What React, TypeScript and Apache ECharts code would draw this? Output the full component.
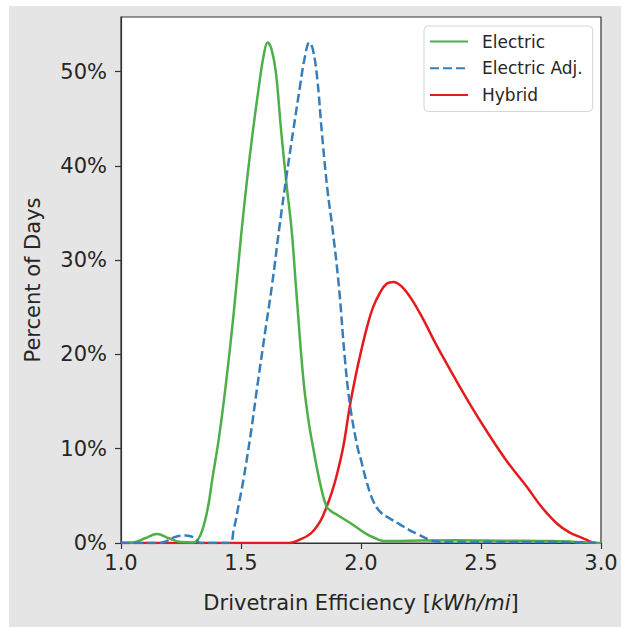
import React, { useEffect, useRef } from "react";
import * as echarts from "echarts";

// ---- Data (x = drivetrain efficiency kWh/mi, y = percent of days) ----
const electricX = [1.0, 1.05, 1.1, 1.15, 1.2, 1.25, 1.3, 1.33, 1.36, 1.38, 1.41, 1.44, 1.47, 1.5, 1.525, 1.55, 1.575, 1.595, 1.611, 1.627, 1.645, 1.667, 1.69, 1.711, 1.729, 1.76, 1.78, 1.8, 1.83, 1.857, 1.88, 1.9, 1.95, 1.98, 2.02, 2.06, 2.1, 2.2, 2.4, 2.6, 2.8, 2.95, 3.0];
const electricY = [0, 0.05, 0.5, 0.95, 0.5, 0.1, 0.05, 0.8, 3.5, 6.7, 11.5, 17.5, 24.5, 32.5, 38.5, 43.8, 48.5, 51.8, 53.1, 52.4, 50.0, 43.8, 38.0, 33.2, 27.2, 17.3, 13.2, 10.2, 6.3, 3.85, 3.3, 3.0, 2.2, 1.7, 1.0, 0.5, 0.2, 0.25, 0.3, 0.25, 0.2, 0.05, 0];

const adjX = [1.0, 1.15, 1.18, 1.22, 1.27, 1.31, 1.33, 1.45, 1.47, 1.49, 1.51, 1.54, 1.57, 1.6, 1.63, 1.66, 1.69, 1.718, 1.745, 1.765, 1.785, 1.8, 1.818, 1.836, 1.86, 1.882, 1.908, 1.933, 1.955, 1.985, 2.0, 2.02, 2.05, 2.08, 2.12, 2.16, 2.2, 2.24, 2.28, 2.32, 2.5, 2.8, 3.0];
const adjY = [0, 0, 0.1, 0.6, 0.8, 0.5, 0, 0, 1.5, 4.0, 6.7, 11.5, 17.0, 22.3, 27.5, 33.5, 39.0, 43.8, 48.3, 51.4, 53.1, 52.3, 49.2, 43.8, 37.5, 33.2, 27.2, 19.5, 14.5, 10.2, 8.8, 6.8, 4.5, 3.3, 2.6, 2.0, 1.4, 0.9, 0.4, 0.15, 0.1, 0.1, 0];

const hybridX = [1.0, 1.7, 1.74, 1.79, 1.83, 1.857, 1.88, 1.9, 1.926, 1.954, 1.98, 2.0, 2.025, 2.05, 2.08, 2.107, 2.135, 2.17, 2.21, 2.26, 2.31, 2.371, 2.45, 2.538, 2.61, 2.69, 2.75, 2.815, 2.87, 2.926, 2.95, 2.97];
const hybridY = [0, 0, 0.3, 1.0, 2.3, 3.85, 5.5, 7.3, 10.2, 14.6, 18.0, 20.3, 22.9, 25.0, 26.6, 27.5, 27.7, 27.2, 25.9, 23.7, 21.2, 18.4, 14.9, 11.3, 8.6, 6.0, 3.9, 2.1, 1.1, 0.5, 0.2, 0];

const seriesNames = ["Electric", "Electric Adj.", "Hybrid"];
const xTickValues = [1.0, 1.5, 2.0, 2.5, 3.0];
const yTickValues = [0, 10, 20, 30, 40, 50];

const zip = (xs: number[], ys: number[]) => xs.map((x, i) => [x, ys[i]]);

const FONT = "DejaVu Sans";

export default function App() {
  const ref = useRef<HTMLDivElement>(null);

  useEffect(() => {
    if (!ref.current) return;
    const chart = echarts.init(ref.current, undefined, { renderer: "svg" });
    const lineBase = {
      type: "line" as const,
      symbol: "none",
      smooth: 0.4,
    };
    chart.setOption({
      animation: false,
      backgroundColor: "transparent",
      textStyle: { fontFamily: FONT },
      grid: {
        left: 112,
        right: 20,
        top: 11,
        bottom: 84,
        show: true,
        backgroundColor: "#ffffff",
        borderColor: "#333333",
        borderWidth: 1.2,
      },
      legend: {
        orient: "vertical",
        left: 415,
        top: 20,
        data: seriesNames,
        itemWidth: 38,
        itemHeight: 14,
        itemGap: 9.7,
        padding: [7, 10, 8, 5],
        backgroundColor: "rgba(255,255,255,0.85)",
        borderColor: "#d4d4d4",
        borderWidth: 1,
        borderRadius: 4,
        itemStyle: { opacity: 0 },
        textStyle: {
          fontFamily: FONT,
          fontSize: 17,
          color: "#262626",
          padding: [0, 0, 0, 9],
        },
      },
      xAxis: {
        type: "value",
        min: 1,
        max: 3,
        interval: 0.5,
        name: "Drivetrain Efficiency [{i|kWh/mi}]",
        nameLocation: "middle",
        nameGap: 49,
        nameTextStyle: {
          fontFamily: FONT,
          fontSize: 21,
          color: "#262626",
          rich: {
            i: { fontFamily: FONT, fontSize: 21, fontStyle: "italic", color: "#262626" },
          },
        },
        axisLine: { show: true, lineStyle: { color: "#333333", width: 1.2 } },
        axisTick: { show: true, length: 6, lineStyle: { color: "#333333", width: 1.2 } },
        axisLabel: {
          show: true,
          margin: 9,
          fontFamily: FONT,
          fontSize: 21,
          color: "#262626",
          formatter: (v: number) => (xTickValues.some((t) => Math.abs(t - v) < 1e-9) ? v.toFixed(1) : ""),
        },
        splitLine: { show: false },
      },
      yAxis: {
        type: "value",
        min: 0,
        max: 55.8,
        interval: 10,
        name: "Percent of Days",
        nameLocation: "middle",
        nameGap: 78,
        nameTextStyle: { fontFamily: FONT, fontSize: 21, color: "#262626" },
        axisLine: { show: true, lineStyle: { color: "#333333", width: 1.2 } },
        axisTick: {
          show: true,
          length: 6,
          customValues: yTickValues,
          lineStyle: { color: "#333333", width: 1.2 },
        },
        axisLabel: {
          show: true,
          margin: 14,
          fontFamily: FONT,
          fontSize: 21,
          color: "#262626",
          customValues: yTickValues,
          formatter: (v: number) => `${Math.round(v)}%`,
        },
        splitLine: { show: false },
      },
      series: [
        {
          ...lineBase,
          name: seriesNames[0],
          data: zip(electricX, electricY),
          lineStyle: { color: "#4daf4a", width: 2.5 },
          itemStyle: { color: "#4daf4a" },
          z: 3,
        },
        {
          ...lineBase,
          name: seriesNames[1],
          data: zip(adjX, adjY),
          lineStyle: { color: "#377eb8", width: 2.5, type: [9, 4] },
          itemStyle: { color: "#377eb8" },
          z: 4,
        },
        {
          ...lineBase,
          name: seriesNames[2],
          data: zip(hybridX, hybridY),
          lineStyle: { color: "#e41a1c", width: 2.5 },
          itemStyle: { color: "#e41a1c" },
          z: 2,
        },
      ],
    });
    return () => chart.dispose();
  }, []);

  return (
    <div style={{ position: "fixed", left: 0, top: 0, width: 621, height: 627, background: "#ffffff" }}>
      <div
        ref={ref}
        style={{ position: "absolute", left: 9, top: 6, width: 612, height: 621, background: "#e5e5e5" }}
      />
    </div>
  );
}
